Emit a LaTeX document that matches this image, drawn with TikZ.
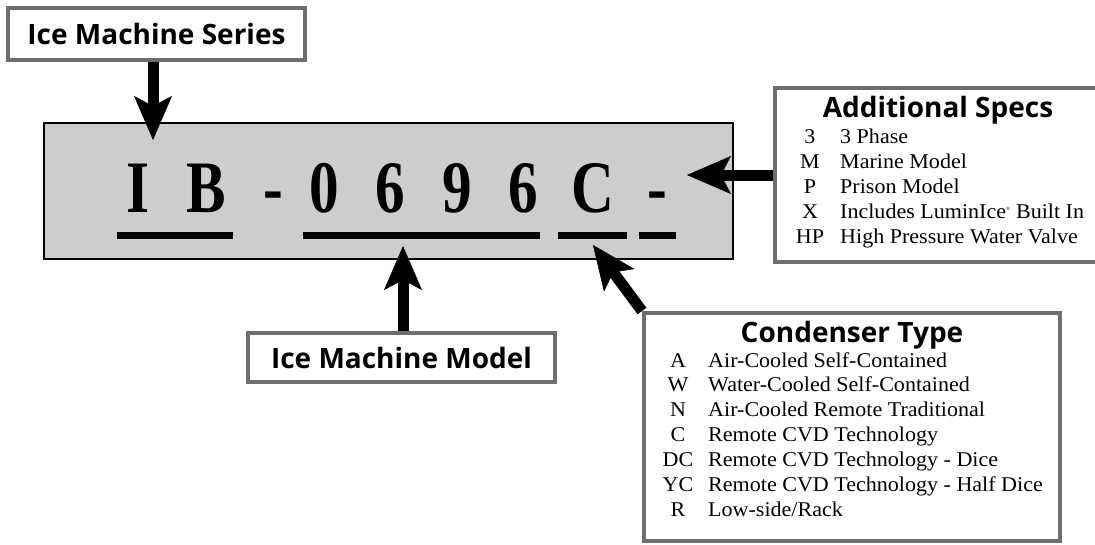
\documentclass[tikz,border=0pt]{standalone}
\usepackage{fontspec}
\usepackage{graphicx}
\usetikzlibrary{arrows.meta}
\newfontfamily\titlefont{Open Sans}
\newfontfamily\itemfont[FakeStretch=1.05]{Liberation Serif}
\newfontfamily\bigfont[FakeStretch=0.8]{Liberation Serif}
\definecolor{boxgray}{HTML}{6E6E6E}
\definecolor{panelgray}{HTML}{CDCDCD}
\tikzset{
  whitebox/.style={draw=boxgray, line width=4pt, fill=white, inner sep=0pt},
  titletext/.style={font=\titlefont\bfseries\fontsize{28}{30}\selectfont, inner sep=0pt},
  itemtext/.style={font=\itemfont\fontsize{21}{23}\selectfont, inner sep=0pt},
  bigletter/.style={font=\bigfont\bfseries\fontsize{74}{80}\selectfont, inner sep=0pt, anchor=base},
  arr/.style={draw=black, line width=11pt,
    -{Stealth[length=44pt,width=38pt,inset=10pt,line width=0.5pt]}},
  uline/.style={draw=black, line width=7pt}
}
\begin{document}
\begin{tikzpicture}[x=1pt,y=-1pt]
\useasboundingbox (0,0) rectangle (1095,544);
\fill[white] (0,0) rectangle (1095,544);

% main panel
\node[draw=black, line width=2.5pt, fill=panelgray, minimum width=689pt, minimum height=136pt, inner sep=0pt] (panel) at (388.5,191) {};

% big code letters
\foreach \ch/\x [count=\i] in {I/138,B/206,-/273,0/324,6/390,9/457,6/523,C/593,-/657}
  \node[bigletter] (L\i) at (\x,212) {\ch};

% underlines
\draw[uline] (117,235.5) -- (233,235.5);
\draw[uline] (303,235.5) -- (540,235.5);
\draw[uline] (558,235.5) -- (627,235.5);
\draw[uline] (639,235.5) -- (676,235.5);

% label boxes
\node[whitebox, minimum width=297pt, minimum height=52pt, titletext] (series) at (156.5,34) {Ice Machine Series};
\node[whitebox, minimum width=307pt, minimum height=49pt, titletext] (model) at (401.5,357.5) {Ice Machine Model};
\node[whitebox, minimum width=345pt, minimum height=174pt] (specs) at (947.5,175) {};
\node[whitebox, minimum width=416pt, minimum height=228pt] (cond) at (852,427) {};

% titles
\node[titletext, anchor=base] (specsT) at (938,117) {Additional Specs};
\node[titletext, anchor=base] (condT) at (852,342) {Condenser Type};

% specs items
\foreach \c/\d/\y [count=\i] in {3/3 Phase/143, M/Marine Model/168, P/Prison Model/193,
  X/{Includes LuminIce\textsuperscript{\tiny ®} Built In}/218, HP/High Pressure Water Valve/243}{
  \node[itemtext, anchor=base] (sc\i) at (810,\y) {\c};
  \node[itemtext, anchor=base west] (sd\i) at (840,\y) {\d};
}

% condenser items
\foreach \c/\d/\y [count=\i] in {A/Air-Cooled Self-Contained/367, W/Water-Cooled Self-Contained/391,
  N/Air-Cooled Remote Traditional/416, C/Remote CVD Technology/441,
  DC/Remote CVD Technology - Dice/466, YC/Remote CVD Technology - Half Dice/491,
  R/{Low-side/Rack}/516}{
  \node[itemtext, anchor=base] (cc\i) at (678,\y) {\c};
  \node[itemtext, anchor=base west] (cd\i) at (708,\y) {\d};
}

% arrows
\coordinate (tA) at (153,140);
\coordinate (tB) at (403,246);
\coordinate (tC) at (593,245);
\coordinate (tD) at (687,175);
\draw[arr] (series.south -| tA) -- (tA);
\draw[arr] (model.north -| tB) -- (tB);
\draw[arr] (cond.north west) -- (tC);
\draw[arr] (specs.west |- tD) -- (tD);
\end{tikzpicture}
\end{document}
